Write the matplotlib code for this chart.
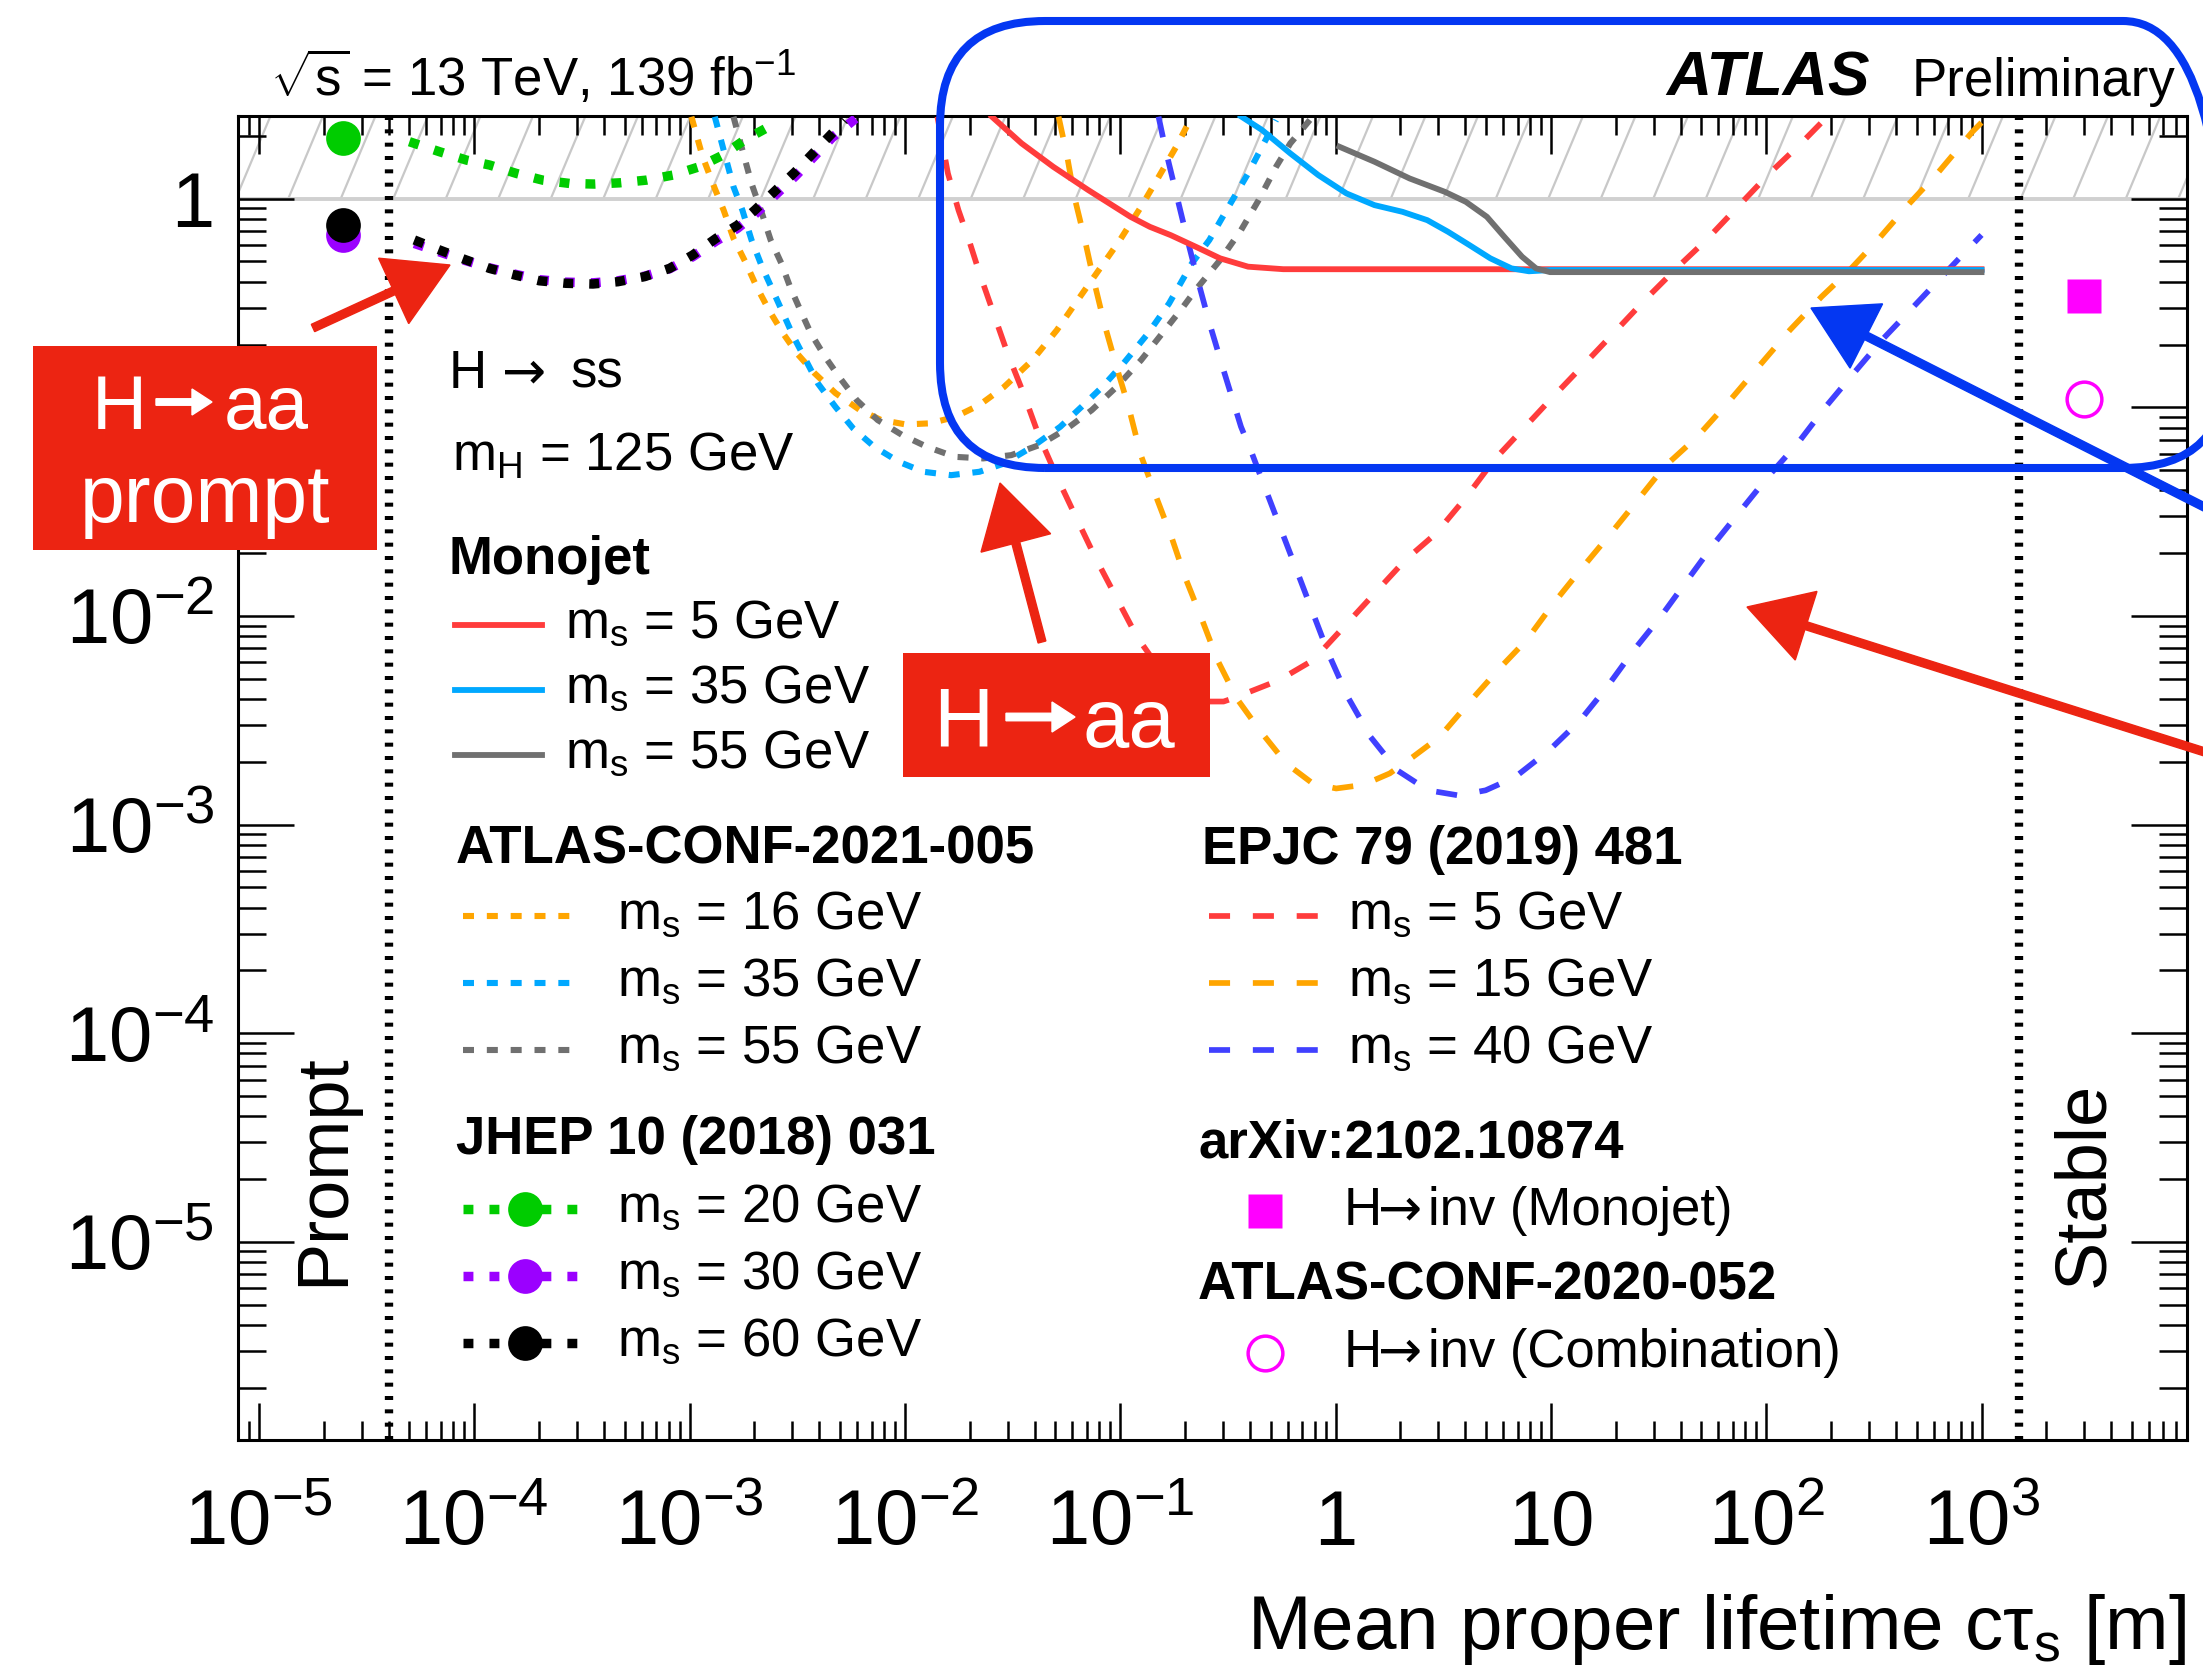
import numpy as np
import matplotlib
matplotlib.use("Agg")
import matplotlib.pyplot as plt
from matplotlib.lines import Line2D
from matplotlib.patches import Rectangle, FancyBboxPatch, FancyArrow
from matplotlib.collections import LineCollection
from matplotlib.transforms import IdentityTransform, Bbox
from matplotlib.ticker import LogLocator, FuncFormatter, NullFormatter

plt.rcParams['font.family'] = ['Liberation Sans', 'DejaVu Sans']
plt.rcParams['mathtext.fontset'] = 'custom'
plt.rcParams['mathtext.rm'] = 'Liberation Sans'
plt.rcParams['mathtext.it'] = 'Liberation Sans:italic'
plt.rcParams['mathtext.bf'] = 'Liberation Sans:bold'
plt.rcParams['mathtext.sf'] = 'Liberation Sans'

# ------------------------------------------------------------------ data
# Monojet (solid)
mono5_x = [0.02535, 0.03483, 0.04887, 0.07112, 0.1117, 0.1374, 0.1718, 0.2239, 0.2911, 0.3926, 0.5715, 1, 10, 100, 1000]
mono5_y = [2.472, 1.841, 1.422, 1.099, 0.8185, 0.7328, 0.6683, 0.5888, 0.5176, 0.4721, 0.4592, 0.459, 0.459, 0.459, 0.459]
mono35_x = [0.3639, 0.4560, 0.6166, 0.8318, 1.125, 1.517, 2.046, 2.667, 3.334, 4.178, 5.236, 6.561, 7.907, 10, 100, 1000]
mono35_y = [2.48, 2.133, 1.648, 1.297, 1.059, 0.9311, 0.8650, 0.7889, 0.6934, 0.5998, 0.5176, 0.4634, 0.4487, 0.455, 0.455, 0.455]
mono55_x = [1.042, 1.517, 2.208, 3.214, 4.027, 5.047, 6.081, 7.345, 8.531, 9.908, 100, 1000]
mono55_y = [1.774, 1.503, 1.250, 1.079, 0.966, 0.8185, 0.6561, 0.5272, 0.4634, 0.4446, 0.4446, 0.4446]

# ATLAS-CONF-2021-005 (dotted)
conf16_x = [1.02e-3, 1.15e-3, 1.31e-3, 1.44e-3, 1.60e-3, 1.83e-3, 2.05e-3, 2.34e-3, 2.72e-3, 3.16e-3, 3.80e-3,
            4.76e-3, 6.19e-3, 7.76e-3, 1.01e-2, 1.31e-2, 1.71e-2, 2.22e-2, 2.89e-2, 3.91e-2, 5.08e-2, 6.35e-2,
            7.96e-2, 9.98e-2, 0.125, 0.151, 0.182, 0.215]
conf16_y = [2.47, 1.589, 1.119, 0.881, 0.646, 0.490, 0.378, 0.292, 0.226, 0.181, 0.146, 0.117, 0.0970, 0.0869,
            0.0828, 0.0838, 0.0899, 0.1026, 0.1253, 0.1683, 0.2344, 0.3266, 0.4550, 0.6339, 0.9141, 1.274, 1.774, 2.47]
conf35_x = [1.31e-3, 1.44e-3, 1.60e-3, 1.76e-3, 1.94e-3, 2.17e-3, 2.43e-3, 2.72e-3, 3.04e-3, 3.47e-3, 3.95e-3,
            4.76e-3, 5.75e-3, 7.21e-3, 9.38e-3, 1.22e-2, 1.64e-2, 2.22e-2, 2.89e-2, 3.91e-2, 5.27e-2, 6.61e-2,
            8.26e-2, 0.1035, 0.1346, 0.1687, 0.2153, 0.2594, 0.3251, 0.3926, 0.4560, 0.5297]
conf35_y = [2.47, 1.710, 1.140, 0.881, 0.634, 0.472, 0.365, 0.282, 0.218, 0.168, 0.130, 0.1005, 0.0793, 0.0647,
            0.0548, 0.0491, 0.0473, 0.0491, 0.0538, 0.0647, 0.0807, 0.1005, 0.1253, 0.1622, 0.2259, 0.3148,
            0.4898, 0.6339, 0.9484, 1.321, 1.774, 2.382]
conf55_x = [1.60e-3, 1.76e-3, 1.94e-3, 2.17e-3, 2.38e-3, 2.67e-3, 2.93e-3, 3.27e-3, 3.66e-3, 4.26e-3, 4.95e-3,
            5.97e-3, 7.48e-3, 9.73e-3, 1.265e-2, 1.71e-2, 2.31e-2, 3.12e-2, 4.21e-2, 5.68e-2, 7.38e-2, 9.62e-2,
            0.125, 0.1567, 0.196, 0.2239, 0.2911, 0.3639, 0.4395, 0.5297, 0.6166, 0.7161, 0.7709]
conf55_y = [2.47, 1.710, 1.183, 0.849, 0.634, 0.490, 0.378, 0.292, 0.226, 0.1746, 0.140, 0.1084, 0.0869, 0.0736,
            0.0647, 0.0579, 0.0569, 0.0590, 0.0659, 0.0793, 0.0970, 0.1253, 0.1683, 0.226, 0.303, 0.365, 0.508,
            0.706, 0.984, 1.422, 1.841, 2.213, 2.427]

# EPJC 79 (2019) 481 (dashed)
epjc5_x = [0.01416, 0.01585, 0.01774, 0.01986, 0.02223, 0.02582, 0.03000, 0.03556, 0.04207, 0.05082, 0.06223,
           0.07638, 0.09376, 0.1197, 0.1514, 0.1995, 0.2512, 0.3020, 0.3342, 0.5458, 0.7870, 1.094, 1.517, 2.104,
           2.924, 4.055, 5.445, 7.345, 9.908, 13.90, 19.50, 27.29, 38.99, 52.72, 73.79, 103.5, 145.2, 188.8]
epjc5_y = [2.472, 1.321, 0.881, 0.631, 0.4385, 0.2818, 0.1811, 0.1167, 0.0723, 0.04645, 0.02985, 0.01919,
           0.01282, 0.00794, 0.00562, 0.00437, 0.00389, 0.00389, 0.00403, 0.00492, 0.00614, 0.00887, 0.01282,
           0.01849, 0.02483, 0.03724, 0.05585, 0.07780, 0.1084, 0.1563, 0.2259, 0.3266, 0.4721, 0.6339, 0.9141,
           1.321, 1.841, 2.427]
epjc15_x = [0.05176, 0.05675, 0.06124, 0.06855, 0.07534, 0.08433, 0.09616, 0.1094, 0.1247, 0.1469, 0.1730,
            0.2000, 0.2404, 0.2831, 0.3475, 0.4436, 0.5916, 0.7870, 1.007, 1.343, 1.786, 2.286, 3.041, 4.055,
            5.675, 7.709, 10.28, 13.68, 18.97, 25.29, 33.65, 47.86, 68.08, 92.04, 128.8, 180.7, 244.3, 329.6,
            462.4, 623.7, 907.8, 1000]
epjc15_y = [2.472, 1.589, 1.021, 0.6339, 0.4074, 0.2523, 0.1563, 0.1005, 0.05902, 0.03724, 0.02393, 0.01538,
            0.00955, 0.00614, 0.00403, 0.00284, 0.00196, 0.00157, 0.00149, 0.00155, 0.00176, 0.00211, 0.00263,
            0.00372, 0.00550, 0.00766, 0.01148, 0.01656, 0.02483, 0.03589, 0.05188, 0.07228, 0.1084, 0.1563,
            0.2344, 0.3388, 0.4550, 0.6339, 0.9484, 1.321, 2.094, 2.317]
epjc40_x = [0.1507, 0.1626, 0.1820, 0.2037, 0.2265, 0.2600, 0.3020, 0.3639, 0.4093, 0.4560, 0.5675, 0.6683,
            0.7870, 0.9268, 1.140, 1.455, 1.936, 2.692, 3.733, 4.977, 6.823, 9.863, 13.68, 18.24, 24.27, 32.36,
            43.05, 57.41, 76.38, 101.9, 140.0, 188.8, 254.7, 344.4, 483.1, 676.1, 1000]
epjc40_y = [2.472, 1.710, 1.059, 0.6561, 0.4266, 0.2523, 0.1507, 0.08072, 0.06012, 0.04477, 0.02483, 0.01600,
            0.01028, 0.00661, 0.00409, 0.00263, 0.00182, 0.00146, 0.00138, 0.00146, 0.00169, 0.00228, 0.00316,
            0.00457, 0.00685, 0.00991, 0.01486, 0.02228, 0.03214, 0.04645, 0.06714, 0.1005, 0.1455, 0.2099,
            0.3034, 0.4385, 0.6699]

# JHEP 10 (2018) 031 (dotted, with prompt points)
jhep20_x = [5.0e-5, 6.9e-5, 9.2e-5, 1.18e-4, 1.57e-4, 2.08e-4, 2.77e-4, 3.62e-4, 4.73e-4, 6.3e-4, 8.36e-4,
            1.11e-3, 1.43e-3, 1.80e-3, 2.34e-3, 2.47e-3]
jhep20_y = [1.875, 1.679, 1.531, 1.449, 1.321, 1.227, 1.183, 1.175, 1.191, 1.227, 1.297, 1.422, 1.618, 1.910,
            2.213, 2.427]
jhep60_x = [5.27e-5, 6.89e-5, 9.0e-5, 1.18e-4, 1.54e-4, 2.01e-4, 2.67e-4, 3.56e-4, 4.65e-4, 6.18e-4, 8.07e-4,
            1.035e-3, 1.33e-3, 1.67e-3, 2.01e-3, 2.52e-3, 3.10e-3, 3.74e-3, 4.59e-3, 5.24e-3]
jhep60_y = [0.634, 0.568, 0.512, 0.463, 0.431, 0.404, 0.393, 0.390, 0.400, 0.423, 0.463, 0.537, 0.646, 0.746,
            0.881, 1.099, 1.346, 1.648, 2.056, 2.382]
jhep30_x = [5.27e-5, 6.89e-5, 9.0e-5, 1.18e-4, 1.54e-4, 2.01e-4, 2.67e-4, 3.56e-4, 4.65e-4, 6.18e-4, 8.07e-4,
            1.035e-3, 1.33e-3, 1.67e-3, 2.01e-3, 2.52e-3, 3.10e-3, 3.74e-3, 4.59e-3, 5.9e-3]
jhep30_y = [0.610, 0.556, 0.507, 0.466, 0.435, 0.409, 0.398, 0.395, 0.404, 0.425, 0.461, 0.527, 0.627, 0.721,
            0.841, 1.047, 1.282, 1.570, 1.959, 2.42]
prompt_x = 2.45e-5
prompt_y = {'20': 1.95, '30': 0.67, '60': 0.747}

# H -> inv
hinv_x = 3.0e3
hinv_monojet = 0.34
hinv_comb = 0.11

prompt_edge = 4.0e-5
stable_edge = 1.5e3
xlim = (8.0e-6, 9.0e3)
ylim = (1.13e-6, 2.49)

# ------------------------------------------------------------------ figure
W, H = 2203, 1666
DPI = 100
fig = plt.figure(figsize=(W / DPI, H / DPI), dpi=DPI)
fig.patch.set_facecolor('white')


def fx(x):
    return x / W


def fy(y):
    return 1 - y / H


AX_L, AX_R, AX_T, AX_B = 238, 2187, 116, 1439.5
ax = fig.add_axes([fx(AX_L), fy(AX_B), (AX_R - AX_L) / W, (AX_B - AX_T) / H])
ax.set_xscale('log')
ax.set_yscale('log')
ax.set_xlim(*xlim)
ax.set_ylim(*ylim)

C_RED = '#FF3C3C'
C_LBLUE = '#00A8FF'
C_GREY = '#707070'
C_ORANGE = '#FFA500'
C_BLUE = '#4040FF'
C_GREEN = '#00CC00'
C_PURPLE = '#9B00FF'
C_MAG = '#FF00FF'

LW_MONO, LW_CONF, LW_EPJC, LW_JHEP, LW_EDGE = 4.2, 4.4, 4.1, 6.8, 6.0
LS_CONF = (0, (1.8, 2.1))
LS_EPJC = (0, (3.7, 4.0))
LS_JHEP = (0, (1.05, 1.7))
LS_EDGE = (0, (0.48, 1.12))

# hatched unphysical band (BR > 1)
x0d, yb = ax.transData.transform((xlim[0], 1.0))
x1d, yt = ax.transData.transform((xlim[1], ylim[1]))
off = 0.42 * (yt - yb)
segs = [[(xs, yb), (xs + off, yt)] for xs in np.arange(x0d - off - 20, x1d + 60, 52.5)]
lc = LineCollection(segs, colors='#C8C8C8', linewidths=1.6, transform=IdentityTransform(), zorder=1)
lc.set_clip_box(Bbox([[x0d, yb], [x1d, yt]]))
ax.add_collection(lc, autolim=False)
ax.axhline(1.0, color='#D0D0D0', lw=2.8, zorder=1.2)

# prompt / stable boundaries
ax.axvline(prompt_edge, color='black', lw=LW_EDGE, ls=LS_EDGE, zorder=2)
ax.axvline(stable_edge, color='black', lw=LW_EDGE, ls=LS_EDGE, zorder=2)

# curves
ax.plot(conf16_x, conf16_y, color=C_ORANGE, lw=LW_CONF, ls=LS_CONF, zorder=3)
ax.plot(conf35_x, conf35_y, color=C_LBLUE, lw=LW_CONF, ls=LS_CONF, zorder=3)
ax.plot(conf55_x, conf55_y, color=C_GREY, lw=LW_CONF, ls=LS_CONF, zorder=3)
ax.plot(epjc5_x, epjc5_y, color=C_RED, lw=LW_EPJC, ls=LS_EPJC, zorder=3)
ax.plot(epjc15_x, epjc15_y, color=C_ORANGE, lw=LW_EPJC, ls=LS_EPJC, zorder=3)
ax.plot(epjc40_x, epjc40_y, color=C_BLUE, lw=LW_EPJC, ls=LS_EPJC, zorder=3)
ax.plot(mono5_x, mono5_y, color=C_RED, lw=LW_MONO, zorder=4)
ax.plot(mono35_x, mono35_y, color=C_LBLUE, lw=LW_MONO, zorder=4)
ax.plot(mono55_x, mono55_y, color=C_GREY, lw=LW_MONO, zorder=4)
ax.plot(jhep20_x, jhep20_y, color=C_GREEN, lw=LW_JHEP, ls=LS_JHEP, zorder=4)
ax.plot(jhep30_x, jhep30_y, color=C_PURPLE, lw=LW_JHEP, ls=LS_JHEP, zorder=4)
ax.plot(jhep60_x, jhep60_y, color='black', lw=LW_JHEP, ls=LS_JHEP, zorder=4)
MS = 25
ax.plot([prompt_x], [prompt_y['20']], 'o', color=C_GREEN, ms=MS, mec='none', zorder=5)
ax.plot([prompt_x], [prompt_y['30']], 'o', color=C_PURPLE, ms=MS, mec='none', zorder=5)
ax.plot([prompt_x], [prompt_y['60']], 'o', color='black', ms=MS, mec='none', zorder=5)
ax.plot([hinv_x], [hinv_monojet], 's', color=C_MAG, ms=MS, mec='none', zorder=5)
ax.plot([hinv_x], [hinv_comb], 'o', mfc='none', mec=C_MAG, mew=2.5, ms=MS, zorder=5)

# axes style
for s in ax.spines.values():
    s.set_linewidth(2.2)
for axis in (ax.xaxis, ax.yaxis):
    axis.set_major_locator(LogLocator(base=10, numticks=30))
    axis.set_minor_locator(LogLocator(base=10, subs=np.arange(2, 10), numticks=30))
    axis.set_minor_formatter(NullFormatter())


def log_fmt(v, pos):
    e = int(round(np.log10(v)))
    if e == 0:
        return '1'
    if e == 1:
        return '10'
    return r'$\mathregular{10^{%d}}$' % e


ax.xaxis.set_major_formatter(FuncFormatter(log_fmt))
ax.yaxis.set_major_formatter(FuncFormatter(log_fmt))
ax.tick_params(which='both', direction='in', top=True, right=True, width=1.8, labelsize=56)
ax.tick_params(axis='x', which='major', length=27, pad=76)
ax.tick_params(axis='x', which='minor', length=13.5)
ax.tick_params(axis='y', which='major', length=40, pad=17)
ax.tick_params(axis='y', which='minor', length=20)
fig.canvas.draw()
for t in ax.xaxis.get_major_ticks():
    t.label1.set_verticalalignment('baseline')

# axis title
fig.text(fx(2186), fy(1649), r'Mean proper lifetime cτ$_{\mathregular{s}}$ [m]', fontsize=55,
         ha='right', va='baseline')

# region labels
fig.text(fx(325), fy(1170), 'Prompt', fontsize=52, rotation=90, ha='center', va='center')
fig.text(fx(2085), fy(1184), 'Stable', fontsize=52, rotation=90, ha='center', va='center')

# header texts
TS = 38
ARROW_FONT = ['DejaVu Sans']
fig.text(fx(270), fy(96), r'$\sqrt{\mathregular{s}}$ = 13 TeV, 139 fb$^{\mathregular{-1}}$', fontsize=TS,
         va='baseline')
fig.text(fx(1666), fy(96), 'ATLAS', fontsize=45, fontweight='bold', fontstyle='italic', va='baseline')
fig.text(fx(1912), fy(96), 'Preliminary', fontsize=TS, va='baseline')
fig.text(fx(449), fy(388), 'H', fontsize=TS, va='baseline')
fig.text(fx(502), fy(388), '→', fontsize=TS, va='baseline', family=ARROW_FONT)
fig.text(fx(570), fy(388), 'ss', fontsize=TS, va='baseline')
fig.text(fx(452), fy(471), r'm$_{\mathregular{H}}$ = 125 GeV', fontsize=TS, va='baseline')


# legend blocks
def leg_line(x0, x1, y, **kw):
    fig.add_artist(Line2D([fx(x0), fx(x1)], [fy(y), fy(y)], transform=fig.transFigure, **kw))


def leg_mark(x, y, **kw):
    fig.add_artist(Line2D([fx(x)], [fy(y)], transform=fig.transFigure, ls='none', **kw))


def leg_text(x, y, s, bold=False, **kw):
    fig.text(fx(x), fy(y), s, fontsize=TS, va='baseline', fontweight='bold' if bold else 'normal', **kw)


leg_text(449, 574, 'Monojet', bold=True)
for i, (c, m) in enumerate([(C_RED, '5'), (C_LBLUE, '35'), (C_GREY, '55')]):
    yb_ = 638 + 65 * i
    leg_line(455, 542, yb_ - 13, color=c, lw=LW_MONO)
    leg_text(565, yb_, r'm$_{\mathregular{s}}$ = %s GeV' % m)

leg_text(456, 864, 'ATLAS-CONF-2021-005', bold=True)
for i, (c, m) in enumerate([(C_ORANGE, '16'), (C_LBLUE, '35'), (C_GREY, '55')]):
    yb_ = 929 + 67 * i
    leg_line(463, 582, yb_ - 13, color=c, lw=LW_CONF, ls=LS_CONF)
    leg_text(617, yb_, r'm$_{\mathregular{s}}$ = %s GeV' % m)

leg_text(456, 1154, 'JHEP 10 (2018) 031', bold=True)
for i, (c, m) in enumerate([(C_GREEN, '20'), (C_PURPLE, '30'), ('black', '60')]):
    yb_ = 1222 + 67 * i
    leg_line(463, 582, yb_ - 13, color=c, lw=LW_JHEP, ls=LS_JHEP)
    leg_mark(525, yb_ - 13, marker='o', color=c, ms=MS, mec='none')
    leg_text(617, yb_, r'm$_{\mathregular{s}}$ = %s GeV' % m)

leg_text(1202, 864, 'EPJC 79 (2019) 481', bold=True)
for i, (c, m) in enumerate([(C_RED, '5'), (C_ORANGE, '15'), (C_BLUE, '40')]):
    yb_ = 929 + 67 * i
    leg_line(1209, 1318, yb_ - 13, color=c, lw=LW_EPJC, ls=LS_EPJC)
    leg_text(1348, yb_, r'm$_{\mathregular{s}}$ = %s GeV' % m)

leg_text(1198, 1158, 'arXiv:2102.10874', bold=True)
leg_mark(1265, 1211, marker='s', color=C_MAG, ms=MS, mec='none')
leg_text(1344, 1225, 'H')
leg_text(1378, 1225, '→', family=ARROW_FONT)
leg_text(1428, 1225, 'inv (Monojet)')
leg_text(1198, 1300, 'ATLAS-CONF-2020-052', bold=True)
leg_mark(1265, 1353, marker='o', mfc='none', mec=C_MAG, mew=2.5, ms=MS)
leg_text(1344, 1367, 'H')
leg_text(1378, 1367, '→', family=ARROW_FONT)
leg_text(1428, 1367, 'inv (Combination)')

# ------------------------------------------------------------------ hand-drawn annotations
C_ANN_RED = '#EC2412'
C_ANN_BLUE = '#0437F2'
ID = IdentityTransform()


def box(x0, y0, x1, y1):
    fig.add_artist(Rectangle((x0, H - y1), x1 - x0, y1 - y0, facecolor=C_ANN_RED, edgecolor='none',
                             transform=ID, zorder=6))


def arrow(x_tail, y_tail, x_tip, y_tip, color, width=8, head_width=72, head_length=62, zorder=7):
    fig.add_artist(FancyArrow(x_tail, H - y_tail, x_tip - x_tail, -(y_tip - y_tail), width=width,
                              head_width=head_width, head_length=head_length, length_includes_head=True,
                              color=color, transform=ID, zorder=zorder))


def box_label(x_h, x_arrow0, x_arrow1, x_aa, y_base, y_arrow, size, shaft, head_w, head_l):
    fig.text(fx(x_h), fy(y_base), 'H', fontsize=size, color='white', va='baseline', zorder=8)
    arrow(x_arrow0, y_arrow, x_arrow1, y_arrow, 'white', width=shaft, head_width=head_w,
          head_length=head_l, zorder=8)
    fig.text(fx(x_aa), fy(y_base), 'aa', fontsize=size, color='white', va='baseline', zorder=8)


box(33, 346, 377, 550)
box_label(92, 156, 212, 224, 429, 402, 55, 6.5, 26, 20)
fig.text(fx(205), fy(522), 'prompt', fontsize=58, color='white', ha='center', va='baseline', zorder=8)
box(903, 653, 1210, 777)
box_label(933, 1006, 1075, 1082, 747, 717, 60, 7.5, 30, 23)

arrow(313, 328, 450, 265, C_ANN_RED)
arrow(1042, 642, 1000, 483, C_ANN_RED)
arrow(2230, 760, 1747, 607, C_ANN_RED)
arrow(2230, 520, 1811, 308, C_ANN_BLUE)

fig.add_artist(FancyBboxPatch((940, H - 468), 2228 - 940, 468 - 21,
                              boxstyle='round,pad=0,rounding_size=105', fill=False,
                              edgecolor=C_ANN_BLUE, lw=5.8, transform=ID, zorder=6))

fig.savefig('out.png', dpi=DPI, facecolor='white')
